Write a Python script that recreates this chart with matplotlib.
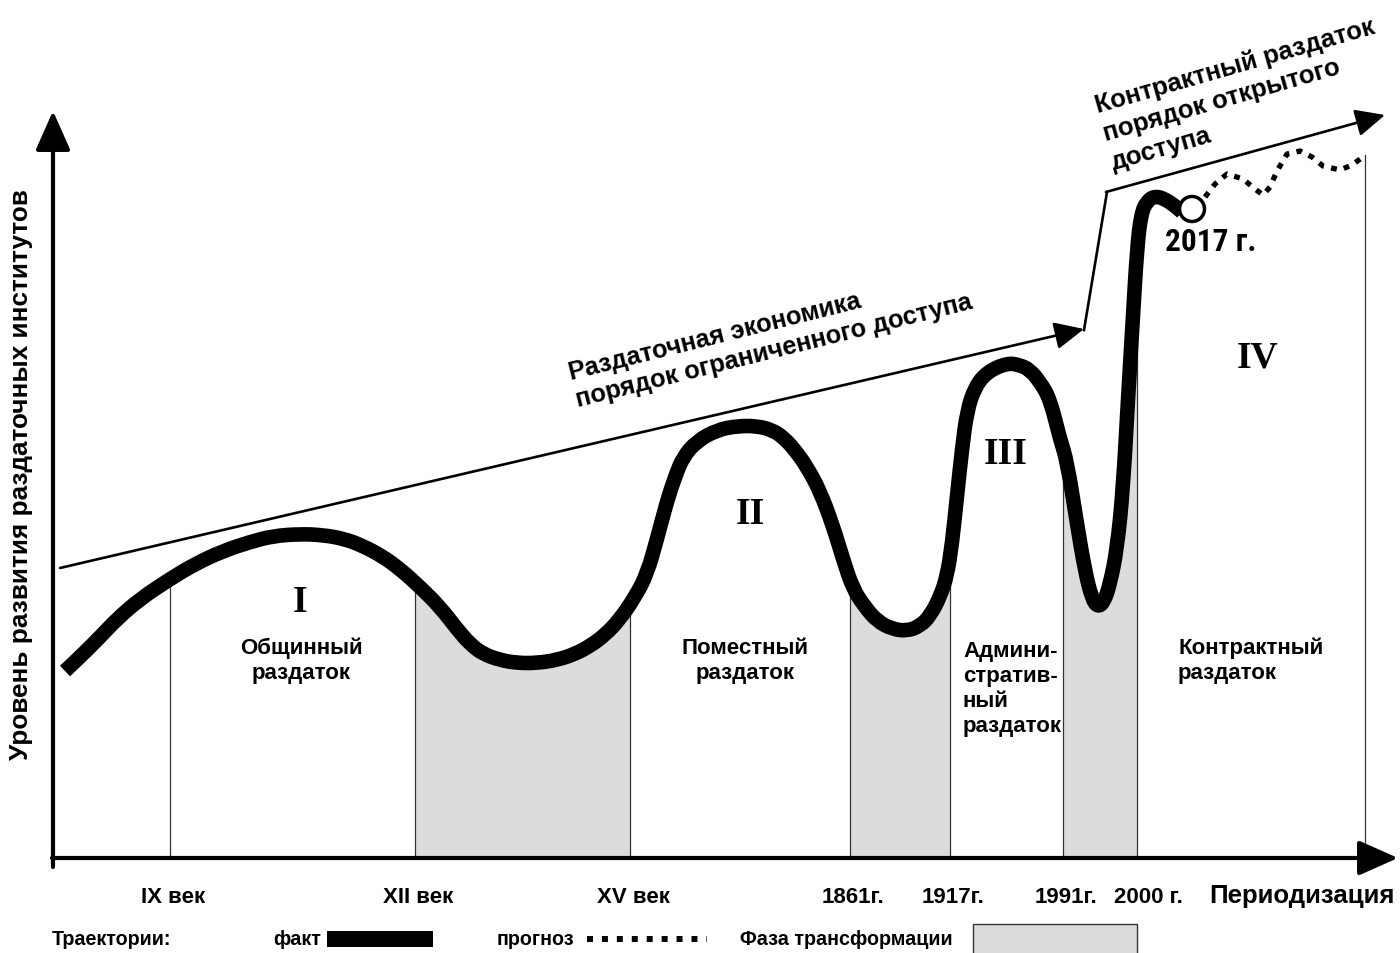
import numpy as np
import matplotlib
matplotlib.use("Agg")
import matplotlib.pyplot as plt
from matplotlib import font_manager
from matplotlib.font_manager import FontProperties
from matplotlib.patches import Rectangle, Circle, PathPatch
from matplotlib.path import Path

# Schematic chart drawn in picture (pixel) coordinates, y grows downward
curve_x = [65, 80, 100, 117, 140, 170, 195, 223, 250, 273, 300, 323, 345, 363, 382, 400,
           420, 440, 457, 470, 483, 500, 517, 537, 557, 575, 590, 605, 620, 635, 647, 657,
           667, 675, 683, 697, 717, 737, 757, 772, 783, 795, 807, 820, 833, 843, 853, 865,
           877, 892, 907, 920, 930, 940, 947, 952, 957, 962, 967, 975, 987, 1007, 1020, 1030,
           1040, 1050, 1060, 1067, 1077, 1085, 1092, 1098, 1104, 1110, 1117, 1123, 1128, 1133,
           1137, 1141, 1147, 1155, 1165, 1175, 1182]
curve_y = [672, 658, 638, 620, 600, 580, 565, 552, 543, 537, 535, 536, 540, 547, 557, 570,
           588, 608, 630, 645, 655, 661, 664, 664, 661, 655, 647, 636, 620, 598, 575, 540,
           502, 478, 458, 442, 431, 427, 427, 431, 438, 451, 468, 492, 527, 560, 590, 608,
           622, 630, 632, 627, 617, 598, 577, 545, 497, 450, 412, 388, 373, 364, 366, 371,
           383, 400, 440, 462, 525, 572, 600, 608, 603, 585, 550, 490, 400, 317,
           250, 215, 202, 197, 200, 207, 213]

forecast_x = [1205, 1215, 1227, 1243, 1255, 1263, 1270, 1277, 1287, 1300, 1312, 1323, 1340, 1352, 1363]
forecast_y = [198, 185, 175, 180, 190, 196, 188, 172, 155, 152, 158, 167, 171, 166, 158]

boundaries = [170, 415, 630, 850, 950, 1063, 1137]
period_labels = ["IX век", "XII век", "XV век", "1861г.", "1917г.", "1991г.", "2000 г."]
transform_phases = [(415, 630), (850, 950), (1063, 1137)]

names = {f.name for f in font_manager.fontManager.ttflist}
SANS = "Liberation Sans" if "Liberation Sans" in names else "DejaVu Sans"
SERIF = "Liberation Serif" if "Liberation Serif" in names else "DejaVu Serif"

# condensed bold face for the "2017 г." mark (Arial Narrow look)
narrow_file = None
for fam in ["Liberation Sans Narrow", "Roboto Condensed", "Roboto", "Open Sans",
            "Noto Sans", "DejaVu Sans"]:
    for f in font_manager.fontManager.ttflist:
        if f.name == fam and f.stretch in ("condensed", "semi-condensed", "extra-condensed") \
                and f.weight in (600, 700, "bold", "semibold") and f.style == "normal":
            narrow_file = f.fname
            break
    if narrow_file:
        break


def narrow(size):
    if narrow_file:
        return FontProperties(fname=narrow_file, size=size)
    return FontProperties(family=SANS, weight="bold", size=size * 0.85)


W, H = 1400, 954
fig = plt.figure(figsize=(14, 9.54), dpi=100)
ax = fig.add_axes([0, 0, 1, 1])
ax.set_xlim(0, W)
ax.set_ylim(H, 0)
ax.axis("off")

base = 858
gray = "#dcdcdc"
bold = dict(family=SANS, weight="bold")

# transformation phases: area under the curve, clipped to each phase
for a, b in transform_phases:
    poly = ax.fill_between(curve_x, curve_y, base, color=gray, lw=0, zorder=1)
    poly.set_clip_path(Rectangle((a, 0), b - a, base, transform=ax.transData))

# vertical period boundaries
for bx in boundaries:
    top = np.interp(bx, curve_x, curve_y)
    ax.plot([bx, bx], [base, top], color="#333333", lw=0.9, zorder=2)
ax.plot([1365, 1365], [base, 156], color="#333333", lw=0.9, zorder=2)

# trajectory, smoothed by quadratic segments through the midpoints
pts = np.column_stack([curve_x, curve_y]).astype(float)
verts = [pts[0]]
codes = [Path.MOVETO]
for i in range(1, len(pts) - 1):
    verts += [pts[i], (pts[i] + pts[i + 1]) / 2]
    codes += [Path.CURVE3, Path.CURVE3]
verts.append(pts[-1])
codes.append(Path.LINETO)
ax.add_patch(PathPatch(Path(verts, codes), fill=False, edgecolor="black", lw=10.5,
                       capstyle="butt", joinstyle="round", zorder=4))
ax.plot(forecast_x, forecast_y, color="black", lw=3.8, dashes=(1.1, 1.4), zorder=4)
ax.add_patch(Circle((1192, 210), 12.5, facecolor="white", edgecolor="black", lw=2.5, zorder=5))

# trend arrows
trend_style = dict(arrowstyle="-|>,head_length=0.9,head_width=0.42", color="black",
                   lw=1.9, mutation_scale=20, shrinkA=0, shrinkB=0)
ax.annotate("", xy=(1084, 330), xytext=(60, 569), arrowprops=trend_style, zorder=3)
ax.plot([1084, 1107], [331, 193], color="black", lw=1.9, zorder=3)
ax.annotate("", xy=(1385, 116), xytext=(1106, 193), arrowprops=trend_style, zorder=3)

# axes arrows
axis_style = dict(arrowstyle="-|>,head_length=0.9,head_width=0.4", color="black",
                  lw=3, mutation_scale=27, shrinkA=0, shrinkB=0)
ax.annotate("", xy=(1398, 859), xytext=(52, 859), arrowprops=axis_style, zorder=6)
ax.annotate("", xy=(53, 112), xytext=(53, 868), arrowprops=axis_style, zorder=6)

# texts
ax.text(21, 475, "Уровень развития раздаточных институтов", rotation=90, ha="center",
        va="center", fontsize=18.8, **bold)
ax.text(579, 412, "Раздаточная экономика\nпорядок ограниченного доступа", rotation=14,
        rotation_mode="anchor", ha="left", va="bottom", fontsize=18.3, linespacing=1.2,
        **bold)
ax.text(1115, 175, "Контрактный раздаток\nпорядок открытого\nдоступа", rotation=16,
        rotation_mode="anchor", ha="left", va="bottom", fontsize=18.5, linespacing=1.3,
        **bold)
ax.text(1211, 242, "2017 г.", ha="center", va="center", fontproperties=narrow(22.5))

for txt, x, y in [("I", 300, 603), ("II", 750, 515), ("III", 1006, 455), ("IV", 1258, 358)]:
    ax.text(x, y, txt, ha="center", va="center", family=SERIF, weight="bold", fontsize=27)

label_kw = dict(fontsize=16, linespacing=1.25, **bold)
ax.text(301, 661, "Общинный\nраздаток", ha="center", va="center", **label_kw)
ax.text(745, 661, "Поместный\nраздаток", ha="center", va="center", **label_kw)
ax.text(963, 689, "Админи-\nстратив-\nный\nраздаток", ha="left", va="center", **label_kw)
ax.text(1178, 661, "Контрактный\nраздаток", ha="left", va="center", **label_kw)

for bx, lab in zip(boundaries, period_labels):
    dx = 11 if lab == "2000 г." else 3
    ax.text(bx + dx, 898, lab, ha="center", va="center", fontsize=16, **bold)
ax.text(1302, 896, "Периодизация", ha="center", va="center", fontsize=18.5, **bold)

# legend row
ax.text(52, 940, "Траектории:", ha="left", va="center", fontsize=14.2, **bold)
ax.text(321, 940, "факт", ha="right", va="center", fontsize=14.2, **bold)
ax.add_patch(Rectangle((327, 932), 106, 16, facecolor="black", edgecolor="none"))
ax.text(497, 940, "прогноз", ha="left", va="center", fontsize=14.2, **bold)
ax.plot([587, 707], [940, 940], color="black", lw=4.3, dashes=(1, 1.5),
        solid_capstyle="butt")
ax.text(740, 940, "Фаза трансформации", ha="left", va="center", fontsize=14.2, **bold)
ax.add_patch(Rectangle((973, 925), 164, 40, facecolor=gray, edgecolor="#333333", lw=1))

fig.savefig("out.png", dpi=100)
